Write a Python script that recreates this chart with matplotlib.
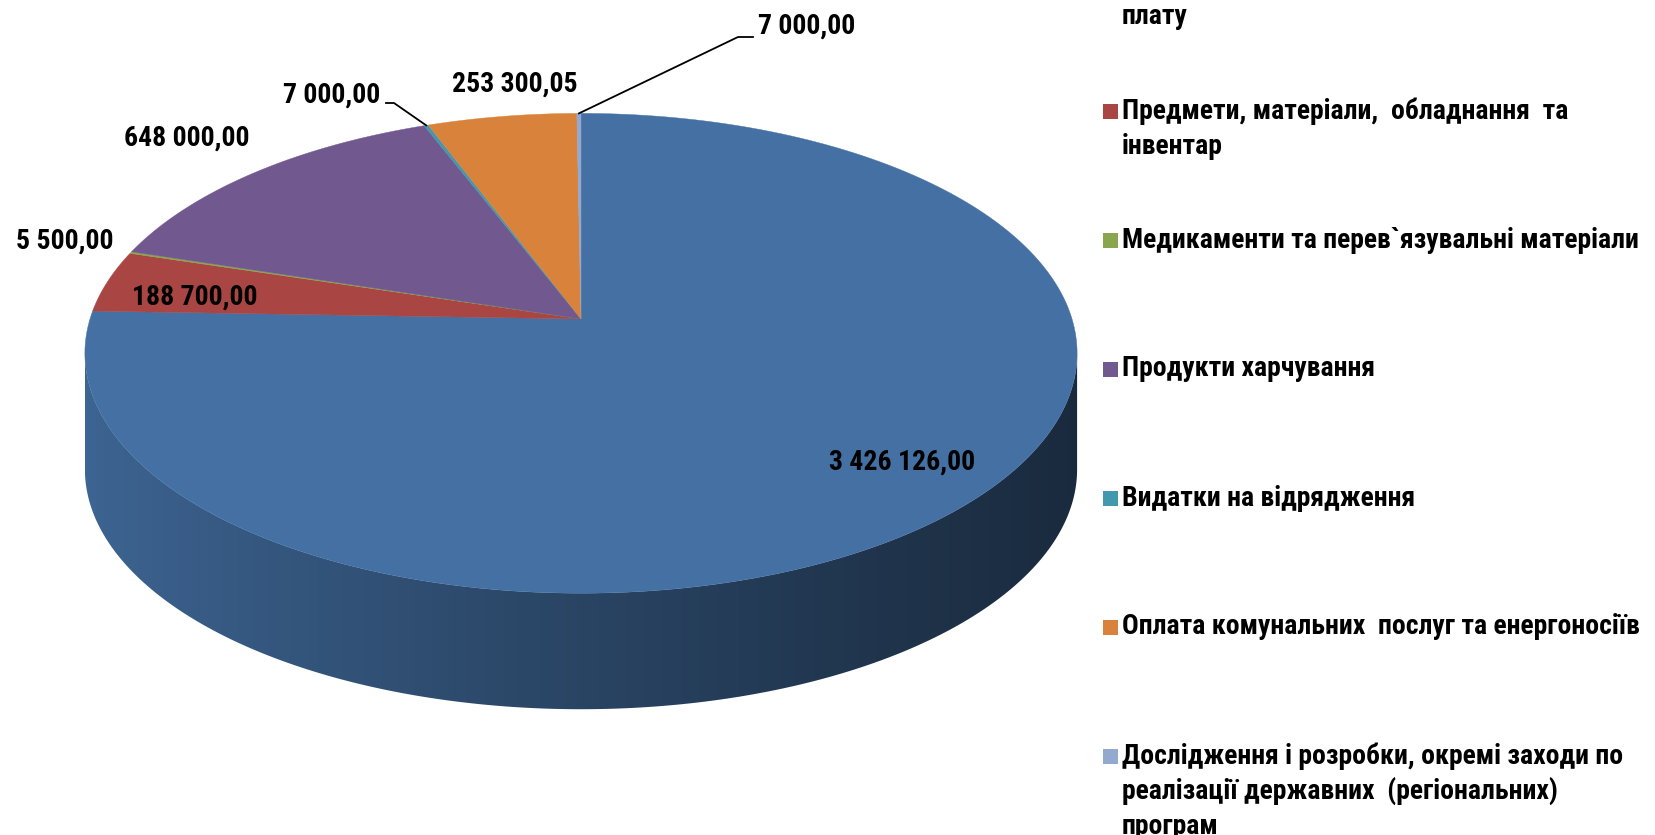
import matplotlib
matplotlib.use("Agg")
import matplotlib.pyplot as plt
from matplotlib.patches import Polygon, Rectangle
from matplotlib.colors import to_rgb
import numpy as np

# Дані діаграми
categories = [
    "Оплата праці і нарахування на заробітну\nплату",
    "Предмети, матеріали,  обладнання  та\nінвентар",
    "Медикаменти та перев`язувальні матеріали",
    "Продукти харчування",
    "Видатки на відрядження",
    "Оплата комунальних  послуг та енергоносіїв",
    "Дослідження і розробки, окремі заходи по\nреалізації державних  (регіональних)\nпрограм",
]
values = [3426126.00, 188700.00, 5500.00, 648000.00, 7000.00, 253300.05, 7000.00]
colors = ["#4470a3", "#a94542", "#89a54e", "#71588f", "#4198af", "#d9823b", "#93a9cf"]

# розміщення підписів значень (центри, пікселі)
label_pos = [(902, 462), (195, 297), (65, 241), (187, 138), (332, 95), (515, 84), (807, 26)]
# виноски: індекс -> (початок, горизонтальний відступ)
leaders = {4: ((386, 103), 8), 6: ((753, 37), -15)}

FONT = ["Roboto Condensed", "Liberation Sans Narrow", "Roboto"]

# геометрія 3D-кола (перспектива)
cx, cy = 581, 319
A, B, k = 491, 235, 0.143
D = 116


def proj(phi_deg, dy=0.0):
    p = np.radians(phi_deg)
    u, v = np.cos(p), np.sin(p)
    s = 1 + k * v
    return cx + A * u / s, cy - B * v / s + dy


def fmt(v):
    return f"{v:,.2f}".replace(",", " ").replace(".", ",")


total = sum(values)
frac = np.cumsum(values) / total
bounds = np.concatenate([[90.0], 90.0 - 360.0 * frac])

fig = plt.figure(figsize=(16.55, 8.35), dpi=100)
ax = fig.add_axes([0, 0, 1, 1])

# бічна стінка: видима частина кожного сектора між силуетами
delta = np.degrees(np.arcsin(k))
xl, xr = cx - A * 1.011, cx + A * 1.011
tgrad = np.linspace(0, 1, 600)
shade = 0.9 - 0.52 * tgrad ** 0.85
for i in range(len(values)):
    lo, hi = bounds[i + 1], bounds[i]
    for off in (-360, 0, 360):
        a = max(lo + off, 180 + delta)
        b = min(hi + off, 360 - delta)
        if b <= a:
            continue
        ang = np.linspace(a, b, max(int((b - a) * 3), 4))
        xs, ys = proj(ang)
        pts = list(zip(xs, ys)) + list(zip(xs[::-1], ys[::-1] + D))
        poly = Polygon(pts, closed=True, facecolor="none", edgecolor="none")
        ax.add_patch(poly)
        img = np.array(to_rgb(colors[i]))[None, None, :] * shade[None, :, None]
        im = ax.imshow(img, extent=(xl, xr, cy + B * 1.3 + D, cy - B),
                       aspect="auto", interpolation="bilinear", zorder=1)
        im.set_clip_path(poly)

ax.set_xlim(0, 1655)
ax.set_ylim(835, 0)
ax.axis("off")

# верхня грань
for i, val in enumerate(values):
    a0, a1 = bounds[i], bounds[i + 1]
    n = max(int(abs(a0 - a1) * 3), 4)
    ang = np.linspace(a0, a1, n)
    xs, ys = proj(ang)
    pts = [(cx, cy)] + list(zip(xs, ys))
    ax.add_patch(Polygon(pts, closed=True, facecolor=colors[i], edgecolor=colors[i],
                         lw=0.3, zorder=2))

# підписи значень
for i, val in enumerate(values):
    x, y = label_pos[i]
    ax.text(x, y, fmt(val), ha="center", va="center", fontsize=20,
            fontweight="bold", family=FONT, color="black", zorder=4)

# виноски
for i, ((sx, sy), dx) in leaders.items():
    mid = 0.5 * (bounds[i] + bounds[i + 1])
    rx, ry = proj(mid)
    ax.plot([sx, sx + dx, rx], [sy, sy, ry], color="black", lw=1.3, zorder=3)

# легенда
leg_y0, leg_step, line_step = -18, 129, 35
for i, lab in enumerate(categories):
    y = leg_y0 + i * leg_step
    ax.add_patch(Rectangle((1103, y - 7), 15, 15, facecolor=colors[i], edgecolor="none"))
    for j, line in enumerate(lab.split("\n")):
        ax.text(1122, y + j * line_step, line, ha="left", va="center", fontsize=20,
                fontweight="bold", family=FONT, color="black")

fig.savefig("out.png", dpi=100)
